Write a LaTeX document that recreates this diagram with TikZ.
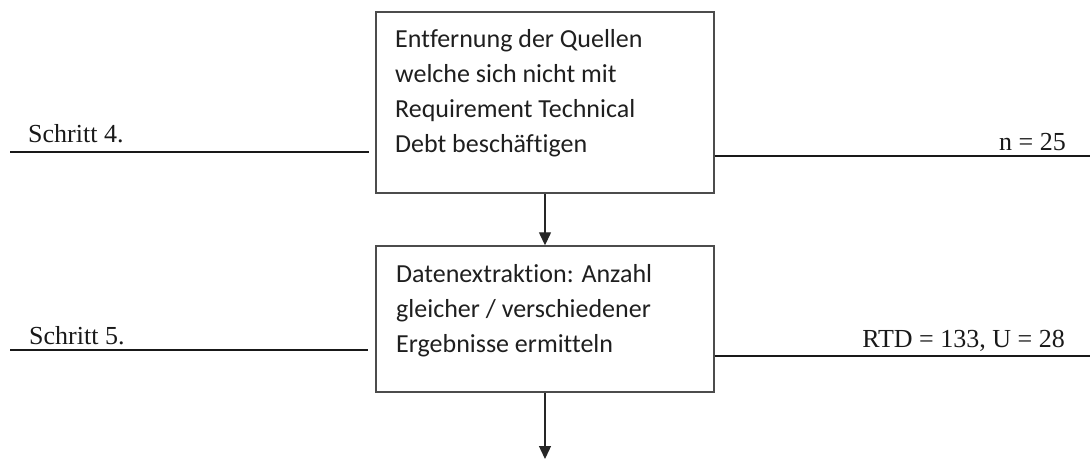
\documentclass[tikz,border=0pt]{standalone}
\usepackage{fontspec}
\setmainfont{Liberation Serif}
\newfontfamily\boxfont[Ligatures=NoCommon]{Carlito}
\usetikzlibrary{arrows.meta}

\tikzset{
  stepbox/.style={draw=black!70, line width=1.4pt, rectangle, inner sep=0pt,
    minimum width=338pt},
  boxtext/.style={anchor=north west, inner sep=0pt, align=left,
    font=\boxfont\fontsize{26}{35}\selectfont, text=black!88},
  steplabel/.style={inner sep=0pt, font=\fontsize{26}{30}\selectfont, text=black!90},
  rule/.style={line width=2.2pt, black!90},
  flow/.style={line width=1.3pt, black!85, -{Triangle[width=12pt,length=13pt]}}
}

\begin{document}
\begin{tikzpicture}[x=1pt,y=-1pt]
  \useasboundingbox (0,0) rectangle (1090,460);

  % process boxes
  \node[stepbox, minimum height=181pt] (box4) at (545,102.5) {};
  \node[stepbox, minimum height=146pt] (box5) at (545,319) {};

  \node[boxtext] (txt4) at (395,27)
    {\rule{0pt}{20pt}Entfernung der Quellen\\welche sich nicht mit\\Requirement Technical\\Debt besch\"aftigen};
  \node[boxtext] (txt5) at (396,262)
    {\rule{0pt}{20pt}Datenextraktion: Anzahl\\gleicher / verschiedener\\Ergebnisse ermitteln};

  % step rules on the left
  \coordinate (s4a) at (10,152);
  \coordinate (s4b) at (369,152);
  \coordinate (s5a) at (10,350);
  \coordinate (s5b) at (368,350);
  \draw[rule] (s4a) -- (s4b);
  \draw[rule] (s5a) -- (s5b);
  \node[steplabel, anchor=base west] (lab4) at (28,142) {Schritt 4.};
  \node[steplabel, anchor=base west] (lab5) at (29,344) {Schritt 5.};

  % result rules on the right
  \coordinate (r4) at (1090,156);
  \coordinate (r5) at (1090,356);
  \draw[rule] (box4.east |- r4) -- (r4);
  \draw[rule] (box5.east |- r5) -- (r5);
  \node[steplabel, anchor=base east] (res4) at (1066,150) {n = 25};
  \node[steplabel, anchor=base east] (res5) at (1065,347) {RTD = 133, U = 28};

  % flow arrows
  \coordinate (next) at (545,459);
  \draw[flow] (box4.south) -- (box5.north);
  \draw[flow] (box5.south) -- (next);
\end{tikzpicture}
\end{document}
